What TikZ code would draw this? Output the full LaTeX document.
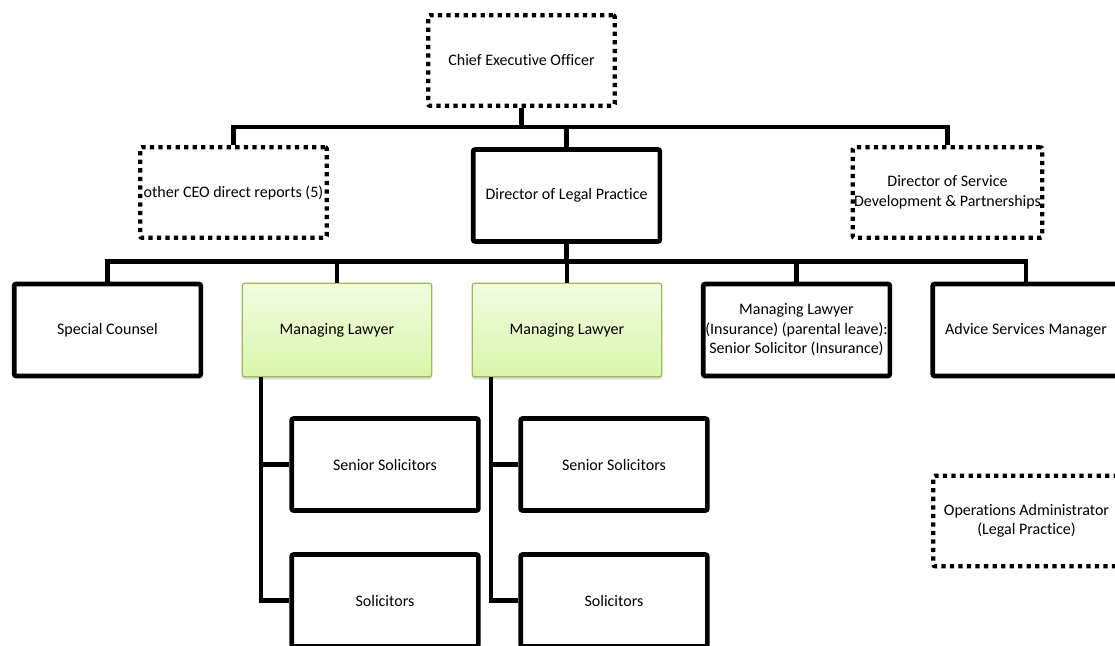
\documentclass[tikz,border=0pt]{standalone}
\usepackage{fontspec}
\setmainfont[Ligatures={NoCommon}]{Carlito}
\usepackage{tikz}
\usetikzlibrary{shadows,positioning}
\usepackage{xcolor}
\definecolor{mledge}{HTML}{9BBB59}
\definecolor{mltop}{HTML}{F2FBE2}
\definecolor{mlbottom}{HTML}{D9F6A9}

\tikzset{
  post/.style={draw, line width=3.5pt, rounded corners=1.5pt, minimum width=140pt,
    minimum height=69pt, align=center, inner sep=1pt, font=\fontsize{12}{14.6}\selectfont},
  vacant/.style={post, line width=3.2pt, dash pattern=on 3.2pt off 3.2pt, minimum height=68pt},
  managing/.style={post, draw=mledge, line width=0.9pt, minimum width=142pt, minimum height=70pt,
    top color=mltop, bottom color=mlbottom,
    drop shadow={opacity=0.3, shadow xshift=0pt, shadow yshift=-2pt}},
  link/.style={line width=3.6pt}
}

\begin{document}
\begin{tikzpicture}[x=0.75pt, y=-0.75pt]
  \useasboundingbox (0,0) rectangle (1115,646);

  % top levels
  \node[vacant] (ceo) at (521.5,60.5) {Chief Executive Officer};
  \node[vacant] (other) at (233.5,192.5) {other CEO direct reports (5)};
  \node[post] (legal) at (566.5,195.5) {Director of Legal Practice};
  \node[vacant] (svc) at (947.5,192.5) {Director of Service\\Development \& Partnerships};

  % legal practice
  \node[post] (special) at (107.5,330) {Special Counsel};
  \node[managing] (ml1) at (337,330) {Managing Lawyer};
  \node[managing] (ml2) at (567,330) {Managing Lawyer};
  \node[post] (mli) at (796.5,330) {Managing Lawyer\\(Insurance) (parental leave):\\Senior Solicitor (Insurance)};
  \node[post] (advice) at (1026,330) {Advice Services Manager};

  \node[post] (sen1) at (385,464.5) {Senior Solicitors};
  \node[post] (sol1) at (385,600.5) {Solicitors};
  \node[post] (sen2) at (614,464.5) {Senior Solicitors};
  \node[post] (sol2) at (614,600.5) {Solicitors};

  \node[vacant] (ops) at (1026.5,521) {Operations Administrator\\(Legal Practice)};

  % connectors
  \draw[link] (ceo.south) -- ++(0,19) coordinate (bus1);
  \draw[link] (other.north) |- (bus1) -| (svc.north);
  \draw[link] (legal.north) -- (legal.north |- bus1);

  \draw[link] (legal.south) -- ++(0,18) coordinate (bus2);
  \draw[link] (special.north) |- (bus2) -| (advice.north);
  \foreach \n in {ml1,ml2,mli}
    \draw[link] (\n.north) -- (\n.north |- bus2);

  \foreach \m/\a/\b in {ml1/sen1/sol1, ml2/sen2/sol2} {
    \coordinate (\m-tap) at ([xshift=-57pt]\m.south);
    \draw[link] (\m-tap) |- (\b.west);
    \draw[link] (\m-tap |- \a.west) -- (\a.west);
  }
\end{tikzpicture}
\end{document}
